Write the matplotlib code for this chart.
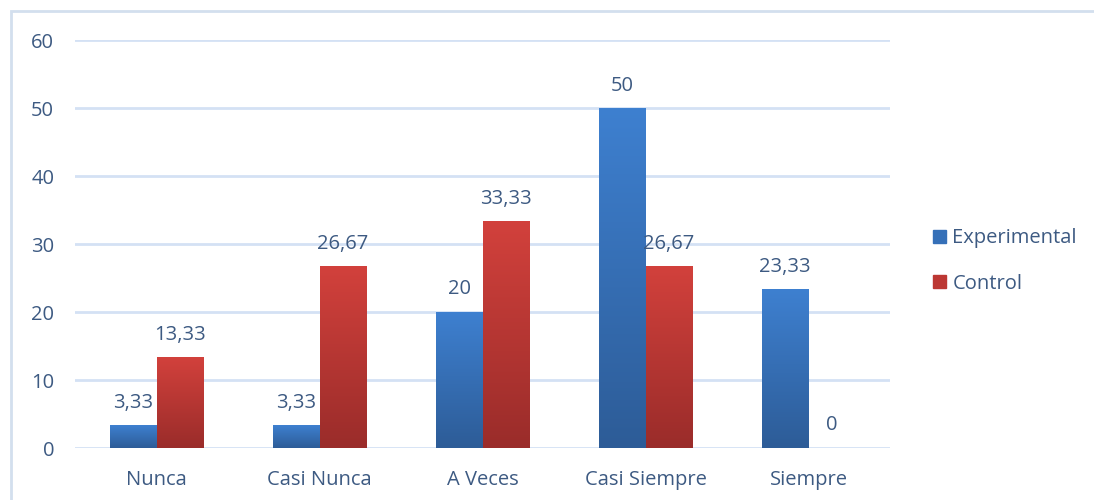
import matplotlib.pyplot as plt
import numpy as np
from matplotlib.colors import LinearSegmentedColormap
from matplotlib.patches import Rectangle

categories = ["Nunca", "Casi Nunca", "A Veces", "Casi Siempre", "Siempre"]
experimental = [3.33, 3.33, 20, 50, 23.33]
control = [13.33, 26.67, 33.33, 26.67, 0]
series_names = ["Experimental", "Control"]

TEXT = "#3D5A82"
GRID = "#D4E1F4"
FS = 14.5

plt.rcParams["font.family"] = ["Open Sans", "DejaVu Sans"]

fig = plt.figure(figsize=(10.94, 5.0), dpi=100)
ax = fig.add_axes([75 / 1094, 52 / 500, 815 / 1094, 408 / 500])

# Outer chart border (runs off the right and bottom edges)
fig.patches.append(Rectangle((11 / 1094, -0.05), 1.2, 1 - 11 / 500 + 0.05,
                             transform=fig.transFigure, fill=False,
                             edgecolor="#D3DFEE", linewidth=2))

x = np.arange(len(categories))
w = 0.288

grad_blue = LinearSegmentedColormap.from_list("b", ["#2D5C97", "#3E80D0"])
grad_red = LinearSegmentedColormap.from_list("r", ["#9A2C2A", "#D2413C"])
ramp = np.linspace(0, 1, 256).reshape(-1, 1)

for vals, off, cmap, name in [(experimental, -w / 2, grad_blue, series_names[0]),
                              (control, w / 2, grad_red, series_names[1])]:
    bars = ax.bar(x + off, vals, w, color="none", zorder=3, label=name)
    for b, v in zip(bars, vals):
        if v > 0:
            ax.imshow(ramp, cmap=cmap, origin="lower", aspect="auto",
                      extent=[b.get_x(), b.get_x() + b.get_width(), 0, v],
                      zorder=3)
        ax.annotate(f"{v:g}".replace(".", ","), (b.get_x() + b.get_width() / 2, v),
                    xytext=(0, 9), textcoords="offset points",
                    ha="center", va="bottom", fontsize=FS, color=TEXT, zorder=4)

ax.set_xlim(-0.5, len(categories) - 0.5)
ax.set_ylim(0, 60)
ax.set_yticks(range(0, 61, 10))
ax.set_xticks(x)
ax.set_xticklabels(categories)
ax.tick_params(length=0, labelsize=FS, labelcolor=TEXT)
ax.tick_params(axis="y", pad=15)
ax.tick_params(axis="x", pad=16)
ax.grid(axis="y", color=GRID, linewidth=2)
ax.set_axisbelow(True)
for s in ax.spines.values():
    s.set_visible(False)

handles = [Rectangle((0, 0), 1, 1, color="#3570B8"),
           Rectangle((0, 0), 1, 1, color="#BC3733")]
leg = fig.legend(handles, series_names, loc="center left",
                 bbox_to_anchor=(915 / 1094, 1 - 261 / 500), frameon=False,
                 fontsize=FS, labelcolor=TEXT, handlelength=0.65,
                 handleheight=0.65, handletextpad=0.3, labelspacing=1.25)

fig.savefig("out.png", dpi=100)
